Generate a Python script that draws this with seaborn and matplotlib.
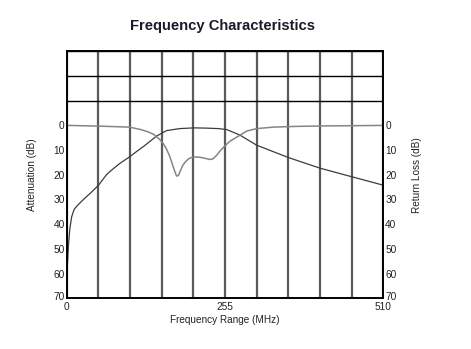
import matplotlib
matplotlib.use("Agg")
import matplotlib.pyplot as plt
import matplotlib.transforms as mtransforms
import seaborn as sns
import pandas as pd
from matplotlib.ticker import MultipleLocator, FixedLocator

sns.set_theme(style="white")
plt.rcParams['font.family'] = ['Liberation Sans', 'DejaVu Sans']

# Attenuation curve (MHz, dB)
att_freq = [0, 1.5, 3, 5, 8, 12, 17, 27, 40, 51, 64, 70, 85, 101, 113, 125, 145, 161, 182, 205, 225, 245, 258, 279, 306, 357, 408, 458, 510]
att_db = [62, 55, 48, 42, 37, 34, 32.5, 30, 27, 24.3, 20, 18.6, 15.5, 12.8, 10.5, 8.3, 4.3, 2.1, 1.3, 1.0, 1.1, 1.3, 1.7, 3.9, 8.0, 13.0, 17.3, 20.7, 24.2]

# Return loss curve (MHz, dB)
rl_freq = [0, 54, 101, 118, 130, 140, 150, 156, 161, 166, 170, 174, 177, 180, 183, 187, 191, 196, 201, 208, 215, 224, 231, 236, 242, 247, 255, 263, 279, 290, 306, 333, 370, 420, 470, 510]
rl_db = [0, 0.3, 0.7, 1.6, 2.5, 3.6, 5.7, 7.5, 9.7, 12.5, 15.5, 18.5, 20.5, 20.3, 18.5, 16.2, 14.8, 13.6, 13.0, 12.8, 12.9, 13.4, 13.8, 13.5, 12.0, 10.4, 8.3, 6.4, 4.0, 2.3, 1.3, 0.7, 0.4, 0.2, 0.1, 0]

x_ticks = [0, 255, 510]
y_ticks = [0, 10, 20, 30, 40, 50, 60, 70]

att_df = pd.DataFrame({"freq": att_freq, "db": att_db})
rl_df = pd.DataFrame({"freq": rl_freq, "db": rl_db})

fig = plt.figure(figsize=(4.71, 3.49), dpi=100)
ax = fig.add_axes([0.1416, 0.1453, 0.672, 0.7077])
ax2 = ax.twinx()

for a in (ax, ax2):
    a.set_xlim(0, 510)
    a.set_ylim(70, -30)
    a.set_yticks(y_ticks)
    a.tick_params(axis='both', which='both', length=0, labelsize=7.3, colors='#222222')
    a.tick_params(axis='y', pad=1.5)
    a.tick_params(axis='x', pad=3)

ax.xaxis.set_major_locator(FixedLocator(x_ticks))
ax.xaxis.set_minor_locator(MultipleLocator(51))
ax.yaxis.set_minor_locator(MultipleLocator(10))
ax.grid(False)
ax2.grid(False)
ax.grid(which='minor', axis='x', color='#5a5a5a', lw=1.6)
ax.grid(which='major', axis='x', color='#5a5a5a', lw=1.6)
ax.grid(which='minor', axis='y', color='black', lw=1.0)
ax.set_axisbelow(True)

sns.lineplot(data=att_df, x="freq", y="db", ax=ax, color='#3c3c3c', lw=0.9, sort=False)
sns.lineplot(data=rl_df, x="freq", y="db", ax=ax2, color='#858585', lw=1.1, sort=False)

for a in (ax, ax2):
    for s in a.spines.values():
        s.set_color('black')
        s.set_linewidth(1.2)

# nudge the bottom "70" labels slightly up so they do not collide with x labels
shift = mtransforms.ScaledTranslation(0, 2.5 / 100, fig.dpi_scale_trans)
for a in (ax, ax2):
    for lbl in a.get_yticklabels():
        if lbl.get_text() == '70':
            lbl.set_transform(lbl.get_transform() + shift)

ax.set_xlabel("Frequency Range (MHz)", fontsize=7.2, labelpad=2, color='#222222')
ax.set_ylabel("Attenuation (dB)", fontsize=7.2, color='#222222')
ax2.set_ylabel("Return Loss (dB)", fontsize=7.2, color='#222222')
ax.yaxis.set_label_coords(-0.094, 0.5)
ax2.yaxis.set_label_coords(1.09, 0.5)

fig.text(0.473, 0.925, "Frequency Characteristics", ha='center', va='center',
         fontsize=10.6, fontweight='bold', color='#1a1a2a')

fig.savefig("out.png", dpi=100)
